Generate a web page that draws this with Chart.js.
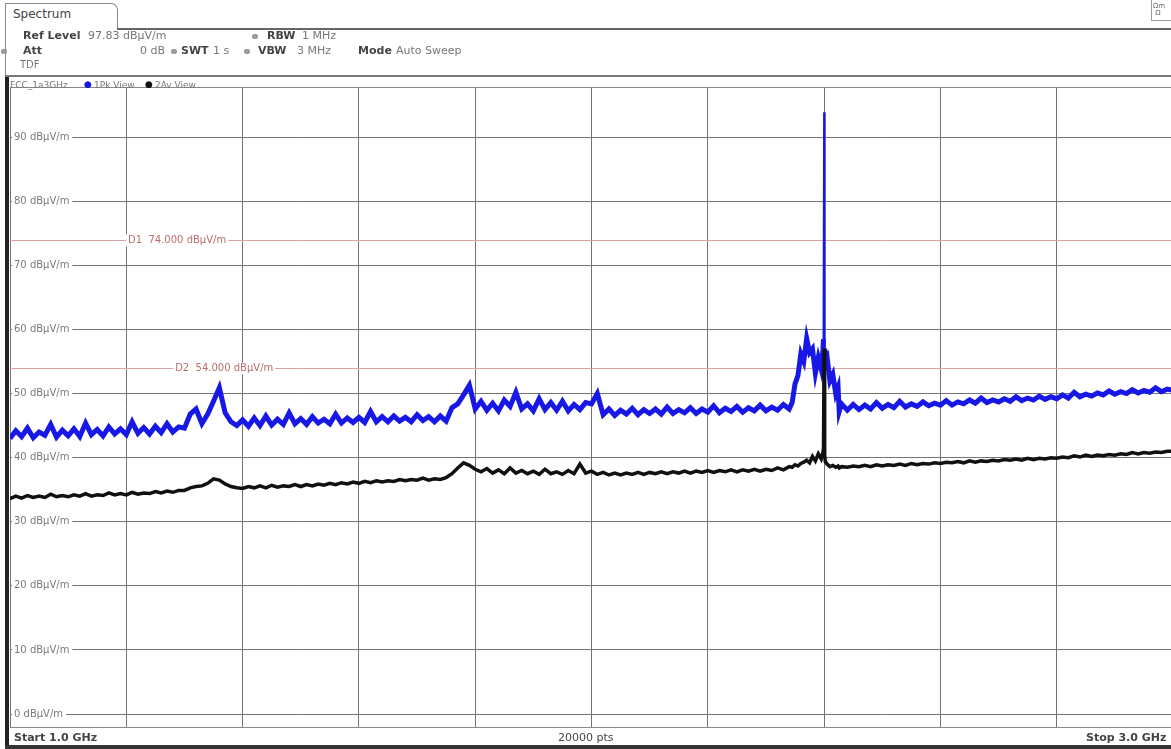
<!DOCTYPE html>
<html><head><meta charset="utf-8">
<script src="https://cdn.jsdelivr.net/npm/chart.js@4.4.1/dist/chart.umd.min.js"></script>
<style>
html,body{margin:0;padding:0;background:#fff;overflow:hidden;width:1171px;height:749px;}
#c{position:absolute;left:0;top:0;}
.t{position:absolute;font-family:"DejaVu Sans",sans-serif;font-size:11px;line-height:12px;color:#777;white-space:nowrap;}
.b{font-weight:bold;color:#444;}
.dot{position:absolute;width:6px;height:5px;border-radius:2px;background:#9a9a9a;}
.ln{position:absolute;}
</style></head>
<body>
<canvas id="c" width="1180" height="749"></canvas>
<!-- header -->
<div class="ln" style="left:5px;top:3px;width:111px;height:26px;border:1px solid #888;border-bottom:none;border-top-right-radius:7px;background:#fff"></div>
<div class="t" style="left:13px;top:8px;font-size:12px;color:#444">Spectrum</div>
<div class="ln" style="left:117px;top:28px;width:1060px;height:2px;background:#666"></div>
<div class="ln" style="left:5px;top:29px;width:1px;height:48px;background:#888"></div>
<div class="ln" style="left:1151px;top:0px;width:20px;height:20px;border-left:1px solid #999;border-bottom:1px solid #999;"></div>
<div class="t" style="left:1153px;top:3px;font-size:7px;line-height:7px;color:#666">Ωm<br>&nbsp;Ω</div>

<div class="t b" style="left:23px;top:30px">Ref Level</div>
<div class="t" style="left:88px;top:30px">97.83 dBµV/m</div>
<div class="dot" style="left:252px;top:34px"></div>
<div class="t b" style="left:267px;top:30px">RBW</div>
<div class="t" style="left:302px;top:30px">1 MHz</div>

<div class="dot" style="left:1px;top:49px"></div>
<div class="t b" style="left:23px;top:45px">Att</div>
<div class="t" style="left:140px;top:45px">0 dB</div>
<div class="dot" style="left:171px;top:49px"></div>
<div class="t b" style="left:181px;top:45px">SWT</div>
<div class="t" style="left:213px;top:45px">1 s</div>
<div class="dot" style="left:244px;top:49px"></div>
<div class="t b" style="left:258px;top:45px">VBW</div>
<div class="t" style="left:297px;top:45px">3 MHz</div>
<div class="t b" style="left:358px;top:45px">Mode</div>
<div class="t" style="left:396px;top:45px">Auto Sweep</div>

<div class="t" style="left:20px;top:59px;font-size:10px">TDF</div>
<div class="ln" style="left:5px;top:75px;width:1171px;height:2px;background:#777"></div>

<div class="t" style="left:10px;top:80px;font-size:9px;line-height:10px">FCC_1a3GHz</div>
<div class="t" style="left:84px;top:79px;font-size:9px;line-height:10px;color:#1616e0">●</div>
<div class="t" style="left:94px;top:80px;font-size:9px;line-height:10px">1Pk View</div>
<div class="t" style="left:145px;top:79px;font-size:9px;line-height:10px;color:#111">●</div>
<div class="t" style="left:155px;top:80px;font-size:9px;line-height:10px">2Av View</div>

<div class="ln" style="left:5px;top:77px;width:4px;height:672px;background:#222"></div>

<div class="t b" style="left:14px;top:732px">Start 1.0 GHz</div>
<div class="t" style="left:558px;top:732px;color:#444">20000 pts</div>
<div class="t b" style="left:1086px;top:732px">Stop 3.0 GHz</div>
<div class="ln" style="left:5px;top:745px;width:1171px;height:4px;background:#333"></div>

<script>
// ---- data ----
const freqGHz = [
1.00,1.01,1.02,1.03,1.04,1.05,1.06,1.07,1.08,1.09,
1.10,1.11,1.12,1.13,1.14,1.15,1.16,1.17,1.18,1.19,
1.20,1.21,1.22,1.23,1.24,1.25,1.26,1.27,1.28,1.29,
1.30,1.31,1.32,1.33,1.34,1.35,1.36,1.37,1.38,1.39,
1.40,1.41,1.42,1.43,1.44,1.45,1.46,1.47,1.48,1.49,
1.50,1.51,1.52,1.53,1.54,1.55,1.56,1.57,1.58,1.59,
1.60,1.61,1.62,1.63,1.64,1.65,1.66,1.67,1.68,1.69,
1.70,1.71,1.72,1.73,1.74,1.75,1.76,1.77,1.78,1.79,
1.80,1.81,1.82,1.83,1.84,1.85,1.86,1.87,1.88,1.89,
1.90,1.91,1.92,1.93,1.94,1.95,1.96,1.97,1.98,1.99,
2.00,2.01,2.02,2.03,2.04,2.05,2.06,2.07,2.08,2.09,
2.10,2.11,2.12,2.13,2.14,2.15,2.16,2.17,2.18,2.19,
2.20,2.21,2.22,2.23,2.24,2.25,2.26,2.27,2.28,2.29,
2.30,2.31,2.32,2.33,2.34,
2.345,2.35,2.355,2.36,2.365,2.37,2.375,2.38,2.385,2.39,2.395,2.398,2.399,2.400,2.401,2.402,2.405,2.41,2.415,2.42,2.424,2.426,2.43,
2.44,2.45,2.46,2.47,2.48,2.49,
2.50,2.51,2.52,2.53,2.54,2.55,2.56,2.57,2.58,2.59,
2.60,2.61,2.62,2.63,2.64,2.65,2.66,2.67,2.68,2.69,
2.70,2.71,2.72,2.73,2.74,2.75,2.76,2.77,2.78,2.79,
2.80,2.81,2.82,2.83,2.84,2.85,2.86,2.87,2.88,2.89,
2.90,2.91,2.92,2.93,2.94,2.95,2.96,2.97,2.98,2.99,
3.00];

// 1Pk View (max peak), dBµV/m
const pkLevel = [
43.0,44.2,43.3,44.6,43.1,44.0,43.5,45.2,43.2,44.3,
43.4,44.5,43.3,45.4,43.6,44.4,43.4,44.8,43.7,44.5,
43.6,45.6,43.8,44.7,43.7,44.9,43.9,45.3,44.0,44.8,
44.6,46.8,47.6,45.3,46.8,48.8,50.9,47.0,45.6,45.0,
45.9,44.9,46.2,45.0,46.5,45.1,46.0,45.2,47.0,45.3,
46.1,45.2,46.4,45.4,46.0,45.3,46.8,45.4,46.2,45.5,
46.3,45.5,47.2,45.6,46.4,45.6,46.5,45.7,46.3,45.6,
46.7,45.8,46.4,45.6,46.5,45.7,47.8,48.4,49.8,51.3,
47.6,48.8,47.4,48.5,47.3,49.0,48.0,50.2,47.6,48.4,
47.3,49.2,47.5,48.6,47.4,48.8,47.3,48.3,47.5,48.6,
48.4,50.0,46.7,47.6,46.6,47.4,46.8,47.7,46.7,47.5,
46.9,47.6,46.8,47.9,46.9,47.5,47.0,47.8,46.9,47.6,
47.1,48.1,47.0,47.7,47.2,48.0,47.1,47.8,47.3,48.2,
47.3,47.9,47.4,48.3,47.6,
48.6,51.5,52.8,56.2,55.0,58.6,56.4,57.0,53.2,55.6,53.8,56.8,58.5,93.9,57.0,55.4,55.8,52.0,53.0,50.0,51.0,47.2,48.4,
47.4,48.3,47.5,48.2,47.6,48.6,
47.7,48.3,47.8,48.8,47.9,48.4,48.0,48.7,48.1,48.5,
48.2,48.9,48.2,48.7,48.4,49.0,48.5,49.3,48.6,49.0,
48.7,49.2,48.8,49.5,48.9,49.3,49.0,49.6,49.1,49.5,
49.2,49.8,49.3,50.2,49.5,49.9,49.6,50.1,49.8,50.4,
49.9,50.3,50.0,50.6,50.1,50.5,50.2,50.9,50.3,50.7,
50.5];

// 2Av View (average), dBµV/m
const avLevel = [
33.6,34.0,33.7,34.1,33.8,34.0,33.8,34.3,33.9,34.1,
33.9,34.2,34.0,34.4,34.0,34.2,34.1,34.5,34.2,34.4,
34.2,34.6,34.3,34.5,34.4,34.7,34.5,34.8,34.6,34.9,
34.9,35.3,35.5,35.6,36.0,36.7,36.5,35.9,35.5,35.3,
35.2,35.5,35.3,35.6,35.3,35.7,35.4,35.6,35.5,35.8,
35.5,35.8,35.6,35.9,35.7,36.0,35.8,36.1,35.9,36.2,
36.0,36.3,36.1,36.4,36.2,36.4,36.3,36.6,36.4,36.6,
36.5,36.8,36.5,36.7,36.6,36.9,37.5,38.4,39.2,38.8,
38.2,37.8,38.3,37.6,38.1,37.5,38.4,37.6,38.0,37.5,
37.9,37.4,38.2,37.5,37.8,37.4,38.0,37.5,39.0,37.6,
37.9,37.4,37.7,37.3,37.6,37.3,37.6,37.4,37.7,37.4,
37.7,37.5,37.8,37.5,37.8,37.6,37.9,37.6,37.9,37.7,
38.0,37.7,38.0,37.8,38.1,37.8,38.1,37.9,38.2,37.9,
38.2,38.0,38.4,38.1,38.6,
38.5,38.9,38.7,39.1,39.3,39.6,39.2,40.2,39.5,40.6,39.8,40.8,41.5,57.0,40.5,39.4,39.0,38.6,38.8,38.5,38.7,38.4,38.6,
38.5,38.7,38.6,38.8,38.6,38.9,
38.7,38.9,38.8,39.0,38.8,39.1,38.9,39.1,39.0,39.2,
39.1,39.3,39.2,39.4,39.2,39.5,39.3,39.5,39.4,39.6,
39.5,39.7,39.6,39.8,39.6,39.9,39.7,39.9,39.8,40.0,
39.9,40.1,40.0,40.3,40.1,40.4,40.2,40.4,40.3,40.5,
40.4,40.6,40.5,40.8,40.6,40.8,40.7,40.9,40.8,41.0,
41.0];

const yTickValues = [0,10,20,30,40,50,60,70,80,90];
const xGridGHz = [1.0,1.2,1.4,1.6,1.8,2.0,2.2,2.4,2.6,2.8,3.0];
const yRefLevel = 97.83;
const yBottom = -2.17;
const limitNames = ['D1','D2'];
const limitValues = [74.0, 54.0];
const limitLabelAtGHz = [1.203, 1.284];

// ---- plugin: limit lines + plot frame ----
const overlay = {
  id: 'overlay',
  beforeDatasetsDraw(chart) {
    const {ctx, chartArea: a, scales: {x, y}} = chart;
    ctx.save();
    ctx.strokeStyle = '#888'; ctx.lineWidth = 1;
    ctx.beginPath();
    ctx.moveTo(a.left, a.top + 0.5); ctx.lineTo(a.right, a.top + 0.5);
    ctx.moveTo(a.left, a.bottom - 0.5); ctx.lineTo(a.right, a.bottom - 0.5);
    ctx.stroke();
    limitValues.forEach((v, i) => {
      const py = Math.round(y.getPixelForValue(v)) + 0.5;
      ctx.strokeStyle = '#d9a3a3'; ctx.lineWidth = 1;
      ctx.beginPath(); ctx.moveTo(a.left, py); ctx.lineTo(a.right, py); ctx.stroke();
      const txt = limitNames[i] + '  ' + v.toFixed(3) + ' dBµV/m';
      ctx.font = '10px "DejaVu Sans"';
      const lx = x.getPixelForValue(limitLabelAtGHz[i]);
      const w = ctx.measureText(txt).width;
      ctx.fillStyle = '#fff'; ctx.fillRect(lx - 2, py - 6, w + 4, 12);
      ctx.fillStyle = '#b86c6c'; ctx.textBaseline = 'middle'; ctx.textAlign = 'left';
      ctx.fillText(txt, lx, py);
    });
    ctx.restore();
  }
};

const thinSpike = w => c => (c.p0.parsed.y > 62 || c.p1.parsed.y > 62) ? w : undefined;

new Chart(document.getElementById('c'), {
  type: 'line',
  data: {
    datasets: [
      { label: '1Pk View', data: freqGHz.map((f, i) => ({x: f, y: pkLevel[i]})),
        borderColor: '#1717e6', borderWidth: 5, pointRadius: 0, tension: 0, order: 2,
        segment: { borderWidth: thinSpike(2) } },
      { label: '2Av View', data: freqGHz.map((f, i) => ({x: f, y: avLevel[i]})),
        borderColor: '#111111', borderWidth: 3.5, pointRadius: 0, tension: 0, order: 1,
        segment: { borderWidth: thinSpike(1.5) } }
    ]
  },
  options: {
    responsive: false, animation: false, devicePixelRatio: 1,
    layout: { padding: { left: 10, top: 87, right: 7, bottom: 21 } },
    plugins: { legend: { display: false }, tooltip: { enabled: false } },
    scales: {
      x: {
        type: 'linear', min: 1, max: 3,
        afterBuildTicks: s => { s.ticks = xGridGHz.map(v => ({value: v})); },
        afterFit: s => { s.height = 0; },
        ticks: { display: false },
        grid: { color: '#747474', lineWidth: 1, drawTicks: false },
        border: { display: false }
      },
      y: {
        min: yBottom, max: yRefLevel,
        afterBuildTicks: s => { s.ticks = yTickValues.map(v => ({value: v})); },
        afterFit: s => { s.width = 0; },
        ticks: {
          mirror: true, padding: 4, color: '#7a7a7a',
          font: { family: 'DejaVu Sans', size: 10 },
          callback: v => v + ' dBµV/m',
          showLabelBackdrop: true, backdropColor: '#ffffff',
          backdropPadding: { top: 0, bottom: 0, left: 2, right: 3 }
        },
        grid: { color: '#747474', lineWidth: 1, drawTicks: false },
        border: { display: false }
      }
    }
  },
  plugins: [overlay]
});
</script>
</body></html>
